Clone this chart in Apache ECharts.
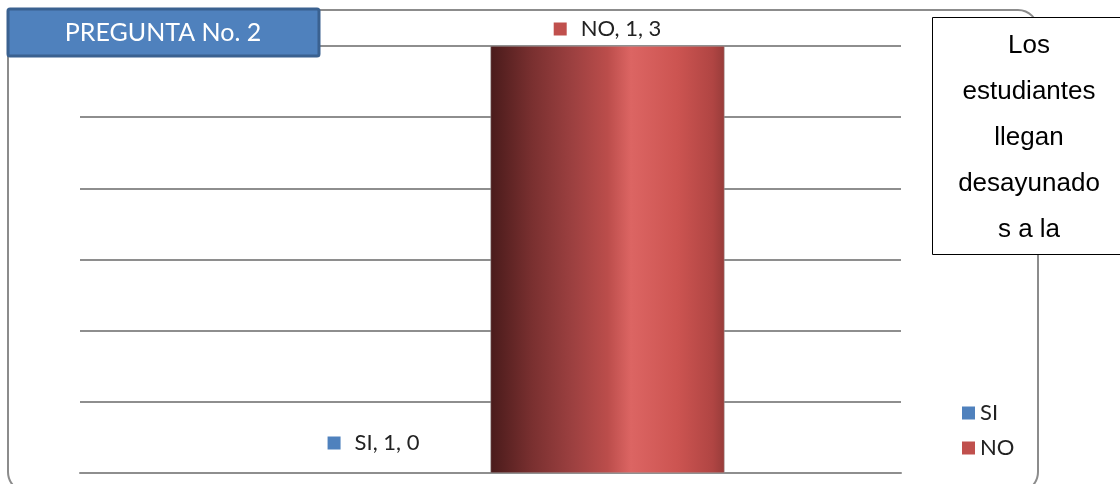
<!DOCTYPE html>
<html>
<head>
<meta charset="utf-8">
<script src="https://cdn.jsdelivr.net/npm/echarts@6/dist/echarts.min.js"></script>
<style>
  html, body { margin: 0; padding: 0; background: #fff; }
  #chart { width: 1120px; height: 484px; }
</style>
</head>
<body>
<div id="chart"></div>
<script>
// Survey answers for question 2
const categories = ['1'];
const seriesNames = ['SI', 'NO'];
const siValues = [0];
const noValues = [3];
const titleText = 'PREGUNTA No. 2';
const noteLines = ['Los', 'estudiantes', 'llegan', 'desayunado', 's a la'];

const SI_COLOR = '#4f81bd';
const NO_COLOR = '#c0504d';
const LABEL_FONT = 'Lato, "Open Sans", sans-serif';

const chart = echarts.init(document.getElementById('chart'));

function dataLabel(color, distance) {
  return {
    show: true,
    position: 'top',
    distance: distance,
    formatter: p => `{m|}{t|${p.seriesName}, ${p.name}, ${p.value}}`,
    rich: {
      m: { backgroundColor: color, width: 13, height: 13 },
      t: { fontFamily: LABEL_FONT, fontSize: 22, color: '#222', padding: [0, 0, 0, 14] }
    }
  };
}

// cylinder-like shading across the bar
const noGradient = new echarts.graphic.LinearGradient(0, 0, 1, 0, [
  { offset: 0, color: '#4a1b1b' },
  { offset: 0.18, color: '#7a3030' },
  { offset: 0.35, color: '#9c4040' },
  { offset: 0.5, color: '#bb4d4b' },
  { offset: 0.6, color: '#dc6563' },
  { offset: 0.8, color: '#cc5451' },
  { offset: 0.95, color: '#b04543' },
  { offset: 1, color: '#973c3a' }
]);

chart.setOption({
  animation: false,
  backgroundColor: '#fff',
  grid: { left: 80, right: 219, top: 46, bottom: 11 },
  legend: {
    orient: 'vertical',
    left: 962,
    top: 402,
    itemWidth: 13,
    itemHeight: 13,
    itemGap: 13,
    icon: 'rect',
    padding: 0,
    textStyle: { fontFamily: LABEL_FONT, fontSize: 22, color: '#222' },
    data: [
      { name: 'SI', itemStyle: { color: SI_COLOR, borderWidth: 0 } },
      { name: 'NO', itemStyle: { color: NO_COLOR, borderWidth: 0 } }
    ]
  },
  xAxis: {
    type: 'category',
    data: categories,
    axisLine: { show: true, lineStyle: { color: '#8e8e8e', width: 2 } },
    axisTick: { show: false },
    axisLabel: { show: false }
  },
  yAxis: {
    type: 'value',
    min: 0,
    max: 3,
    interval: 0.5,
    axisLine: { show: false },
    axisTick: { show: false },
    axisLabel: { show: false },
    splitLine: { show: true, lineStyle: { color: '#8e8e8e', width: 2 } }
  },
  series: [
    {
      name: seriesNames[0],
      type: 'bar',
      data: siValues,
      barWidth: 234,
      barGap: 0,
      itemStyle: { color: SI_COLOR },
      label: dataLabel(SI_COLOR, 19)
    },
    {
      name: seriesNames[1],
      type: 'bar',
      data: noValues,
      barWidth: 234,
      barGap: 0,
      itemStyle: { color: noGradient, borderColor: '#a0a0a0', borderWidth: 0.5 },
      label: dataLabel(NO_COLOR, 6)
    }
  ],
  graphic: [
    // chart area frame
    {
      type: 'rect', z: -10, silent: true,
      shape: { x: 8, y: 10, width: 1030, height: 482, r: 20 },
      style: { fill: 'none', stroke: '#8c8c8c', lineWidth: 2 }
    },
    // title box
    {
      type: 'rect', z: 100,
      shape: { x: 8, y: 9, width: 311, height: 47, r: 2 },
      style: { fill: '#4f81bd', stroke: '#3a6190', lineWidth: 3 }
    },
    {
      type: 'text', z: 101,
      x: 163, y: 33,
      style: {
        text: titleText, fill: '#fff', font: '25px ' + LABEL_FONT,
        align: 'center', verticalAlign: 'middle'
      }
    },
    // note box on the right
    {
      type: 'rect', z: 100,
      shape: { x: 932.5, y: 17.5, width: 200, height: 237 },
      style: { fill: '#fff', stroke: '#000', lineWidth: 1 }
    },
    {
      type: 'text', z: 101,
      x: 1029, y: 23,
      style: {
        text: noteLines.join('\n'), fill: '#000',
        font: '26px "Liberation Sans", Arial, sans-serif',
        lineHeight: 46, align: 'center', verticalAlign: 'top'
      }
    }
  ]
});
</script>
</body>
</html>
